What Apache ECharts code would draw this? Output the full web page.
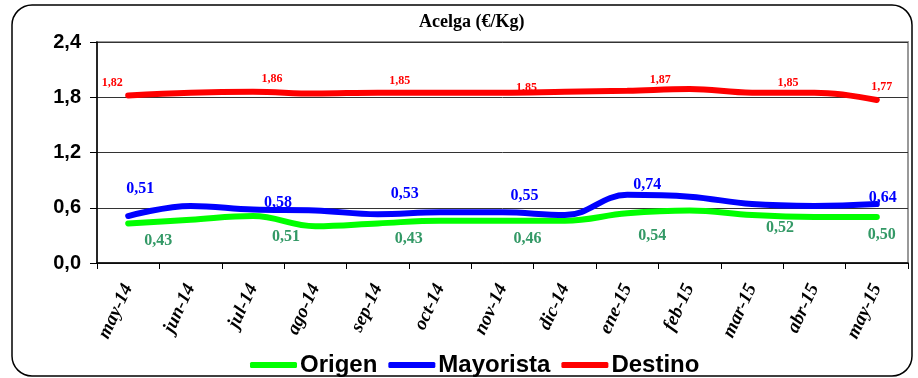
<!DOCTYPE html>
<html>
<head>
<meta charset="utf-8">
<script src="https://cdn.jsdelivr.net/npm/echarts@6/dist/echarts.min.js"></script>
<style>
  html, body { margin: 0; padding: 0; background: #fff; }
  #chart { width: 918px; height: 378px; }
</style>
</head>
<body>
<div id="chart"></div>
<script>
const months = ['may-14', 'jun-14', 'jul-14', 'ago-14', 'sep-14', 'oct-14', 'nov-14',
  'dic-14', 'ene-15', 'feb-15', 'mar-15', 'abr-15', 'may-15']
const origen = [0.43, 0.47, 0.51, 0.40, 0.43, 0.46, 0.46, 0.46, 0.54, 0.57, 0.52, 0.50, 0.50]
const mayorista = [0.51, 0.62, 0.58, 0.57, 0.53, 0.55, 0.55, 0.52, 0.74, 0.72, 0.64, 0.62, 0.64]
const destino = [1.82, 1.85, 1.86, 1.84, 1.85, 1.85, 1.85, 1.86, 1.87, 1.89, 1.85, 1.85, 1.77]
// which points carry a value label
const origenLabeled = [0, 2, 4, 6, 8, 10, 12]
const mayoristaLabeled = [0, 2, 4, 6, 8, 12]
const destinoLabeled = [0, 2, 4, 6, 8, 10, 12]

// label nudges (Excel placed them by hand), per labeled point: [dx, dy]
const labelShift = [
  [[30, 1], [33, 4], [31, -1], [25, 2], [25, 6], [28, -4], [5, 1]],
  [[12, -1], [25, 20], [27, 6], [22, 10], [20, 17], [6, 20]],
  [[-16, 2], [19, 2], [22, 3], [24, 10], [33, 4], [36, 5], [5, 1]],
]
const labeledIdx = [origenLabeled, mayoristaLabeled, destinoLabeled]

const fmt = (v) => v.toFixed(2).replace('.', ',')

const withLabels = (values, labeled, label) =>
  values.map((v, i) => ({
    value: v,
    label: {
      show: labeled.includes(i),
      position: label.position,
      distance: label.distance,
      color: label.color,
      fontFamily: 'Liberation Serif',
      fontWeight: 'bold',
      fontSize: label.fontSize,
      formatter: (p) => fmt(p.value),
    },
  }))

const chart = echarts.init(document.getElementById('chart'))

const lineSeries = (name, color, data) => ({
  name,
  type: 'line',
  data,
  smooth: 0.4,
  symbol: 'circle',
  symbolSize: 1,
  showSymbol: true,
  lineStyle: { color, width: 6, cap: 'round' },
  itemStyle: { color },
  labelLayout: (p) => {
    const k = labeledIdx[p.seriesIndex].indexOf(p.dataIndex)
    if (k < 0) return {}
    const s = labelShift[p.seriesIndex][k]
    return { dx: s[0], dy: s[1], hideOverlap: false }
  },
  z: 3,
})

chart.setOption({
  animation: false,
  backgroundColor: '#fff',
  title: {
    text: 'Acelga (€/Kg)',
    left: 414,
    top: 8,
    textStyle: { fontFamily: 'Liberation Serif', fontWeight: 'bold', fontSize: 18, color: '#000' },
  },
  graphic: [
    {
      type: 'rect',
      shape: { x: 12, y: 5, width: 900, height: 371, r: 20 },
      style: { fill: 'none', stroke: '#000', lineWidth: 1.5 },
      silent: true,
    },
  ],
  legend: {
    top: 348,
    left: 245,
    itemWidth: 47,
    itemHeight: 6,
    itemGap: 11,
    icon: 'roundRect',
    textStyle: { fontFamily: 'Liberation Sans', fontWeight: 'bold', fontSize: 24, color: '#000', padding: [0, 0, 0, -2] },
    data: ['Origen', 'Mayorista', 'Destino'],
  },
  grid: {
    left: 97,
    right: 10,
    top: 42,
    bottom: 115,
    show: true,
    borderColor: '#999',
    borderWidth: 2,
  },
  xAxis: {
    type: 'category',
    data: months,
    boundaryGap: true,
    axisLine: { lineStyle: { color: '#000', width: 1.5 } },
    axisTick: { show: true, interval: 0, length: 6, lineStyle: { color: '#000' } },
    axisLabel: {
      interval: 0,
      rotate: 65,
      margin: 22,
      color: '#000',
      fontFamily: 'Liberation Serif',
      fontWeight: 'bold',
      fontStyle: 'italic',
      fontSize: 19,
    },
  },
  yAxis: {
    type: 'value',
    min: 0,
    max: 2.4,
    interval: 0.6,
    axisLine: { show: true, lineStyle: { color: '#000', width: 1.5 } },
    axisTick: { show: true, length: 7, lineStyle: { color: '#000' } },
    axisLabel: {
      margin: 16,
      color: '#000',
      fontFamily: 'Liberation Sans',
      fontWeight: 'bold',
      fontSize: 20,
      formatter: (v) => v.toFixed(1).replace('.', ','),
    },
    splitLine: { lineStyle: { color: '#333', width: 1 } },
  },
  series: [
    lineSeries('Origen', '#00ff00', withLabels(origen, origenLabeled,
      { position: 'bottom', distance: 8, color: '#339966', fontSize: 16 })),
    lineSeries('Mayorista', '#0000ff', withLabels(mayorista, mayoristaLabeled,
      { position: 'top', distance: 18, color: '#0000ff', fontSize: 16 })),
    lineSeries('Destino', '#ff0000', withLabels(destino, destinoLabeled,
      { position: 'top', distance: 8, color: '#ff0000', fontSize: 12 })),
  ],
})
</script>
</body>
</html>
